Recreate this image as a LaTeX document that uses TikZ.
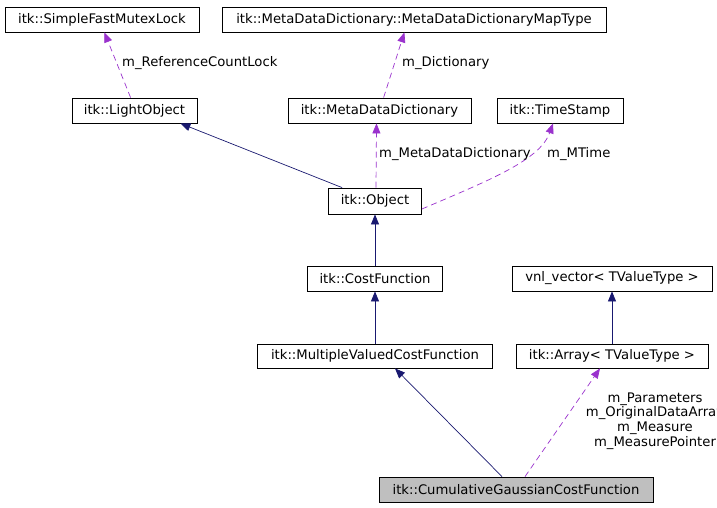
\documentclass[tikz,border=0pt]{standalone}
\usepackage{fontspec}
\setmainfont{DejaVu Sans}
\usetikzlibrary{arrows.meta}
\definecolor{inherit}{HTML}{191970}
\definecolor{usage}{HTML}{9A32CD}
\definecolor{current}{HTML}{BFBFBF}

\begin{document}
\begin{tikzpicture}[x=1pt, y=-1pt,
    font=\fontsize{13.2}{15}\selectfont,
    cls/.style={draw, line width=0.8pt, inner sep=0pt, minimum height=25pt},
    inh/.style={draw=inherit, line width=0.7pt, -{Triangle[length=10pt,width=8pt]}, inherit},
    use/.style={draw=usage, line width=0.7pt, dash pattern=on 6pt off 4pt, -{Triangle[length=10pt,width=8pt]}, usage},
    lbl/.style={inner sep=0pt, anchor=west}]

    \useasboundingbox (0,0) rectangle (717,507);

    \node[cls, minimum width=194pt] (mutex) at (102,19.5) {itk::SimpleFastMutexLock};
    \node[cls, minimum width=384pt] (maptype) at (414,19.5) {itk::MetaDataDictionary::MetaDataDictionaryMapType};
    \node[cls, minimum width=125pt] (light) at (134.5,110.5) {itk::LightObject};
    \node[cls, minimum width=183pt] (dict) at (379.5,110.5) {itk::MetaDataDictionary};
    \node[cls, minimum width=126pt] (stamp) at (560,110.5) {itk::TimeStamp};
    \node[cls, minimum width=93pt, minimum height=26pt] (object) at (375,201) {itk::Object};
    \node[cls, minimum width=135pt] (cost) at (375,278.5) {itk::CostFunction};
    \node[cls, minimum width=200pt] (vnl) at (612,278.5) {vnl\_vector< TValueType >};
    \node[cls, minimum width=235pt, minimum height=24pt] (multi) at (375,356) {itk::MultipleValuedCostFunction};
    \node[cls, minimum width=192pt, minimum height=24pt] (array) at (612,356) {itk::Array< TValueType >};
    \node[cls, fill=current, minimum width=274pt] (gauss) at (516,489.5) {itk::CumulativeGaussianCostFunction};

    \draw[use] ([xshift=59pt]light.north west) -- ([xshift=-95pt]mutex.south east);
    \draw[use] ([xshift=96pt]dict.north west) -- ([xshift=-202pt]maptype.south east);
    \draw[use] ([xshift=1pt]object.north) -- ([xshift=-3pt]dict.south);
    \draw[use] ([yshift=-8pt]object.east) .. controls (490,180) and (540,160) .. ([xshift=-7pt]stamp.south);
    \draw[inh] ([xshift=14pt]object.north west) -- ([xshift=-17pt]light.south east);
    \draw[inh] (cost) -- (object);
    \draw[inh] (multi) -- (cost);
    \draw[inh] (array) -- (vnl);
    \draw[inh] ([xshift=-14pt]gauss.north) -- ([xshift=20pt]multi.south);
    \draw[use] ([xshift=9pt]gauss.north) -- ([xshift=-12pt]array.south);

    \node[lbl] (lockname) at (122,63) {m\_ReferenceCountLock};
    \node[lbl] (dictname) at (402,63) {m\_Dictionary};
    \node[lbl] (metaname) at (379,154) {m\_MetaDataDictionary};
    \node[lbl] (timename) at (547,154) {m\_MTime};
    \node[inner sep=0pt, align=center, font=\fontsize{13.2}{14.7}\selectfont] (arraynames) at (655,421)
        {m\_Parameters\\m\_OriginalDataArray\\m\_Measure\\m\_MeasurePointer};
\end{tikzpicture}
\end{document}
